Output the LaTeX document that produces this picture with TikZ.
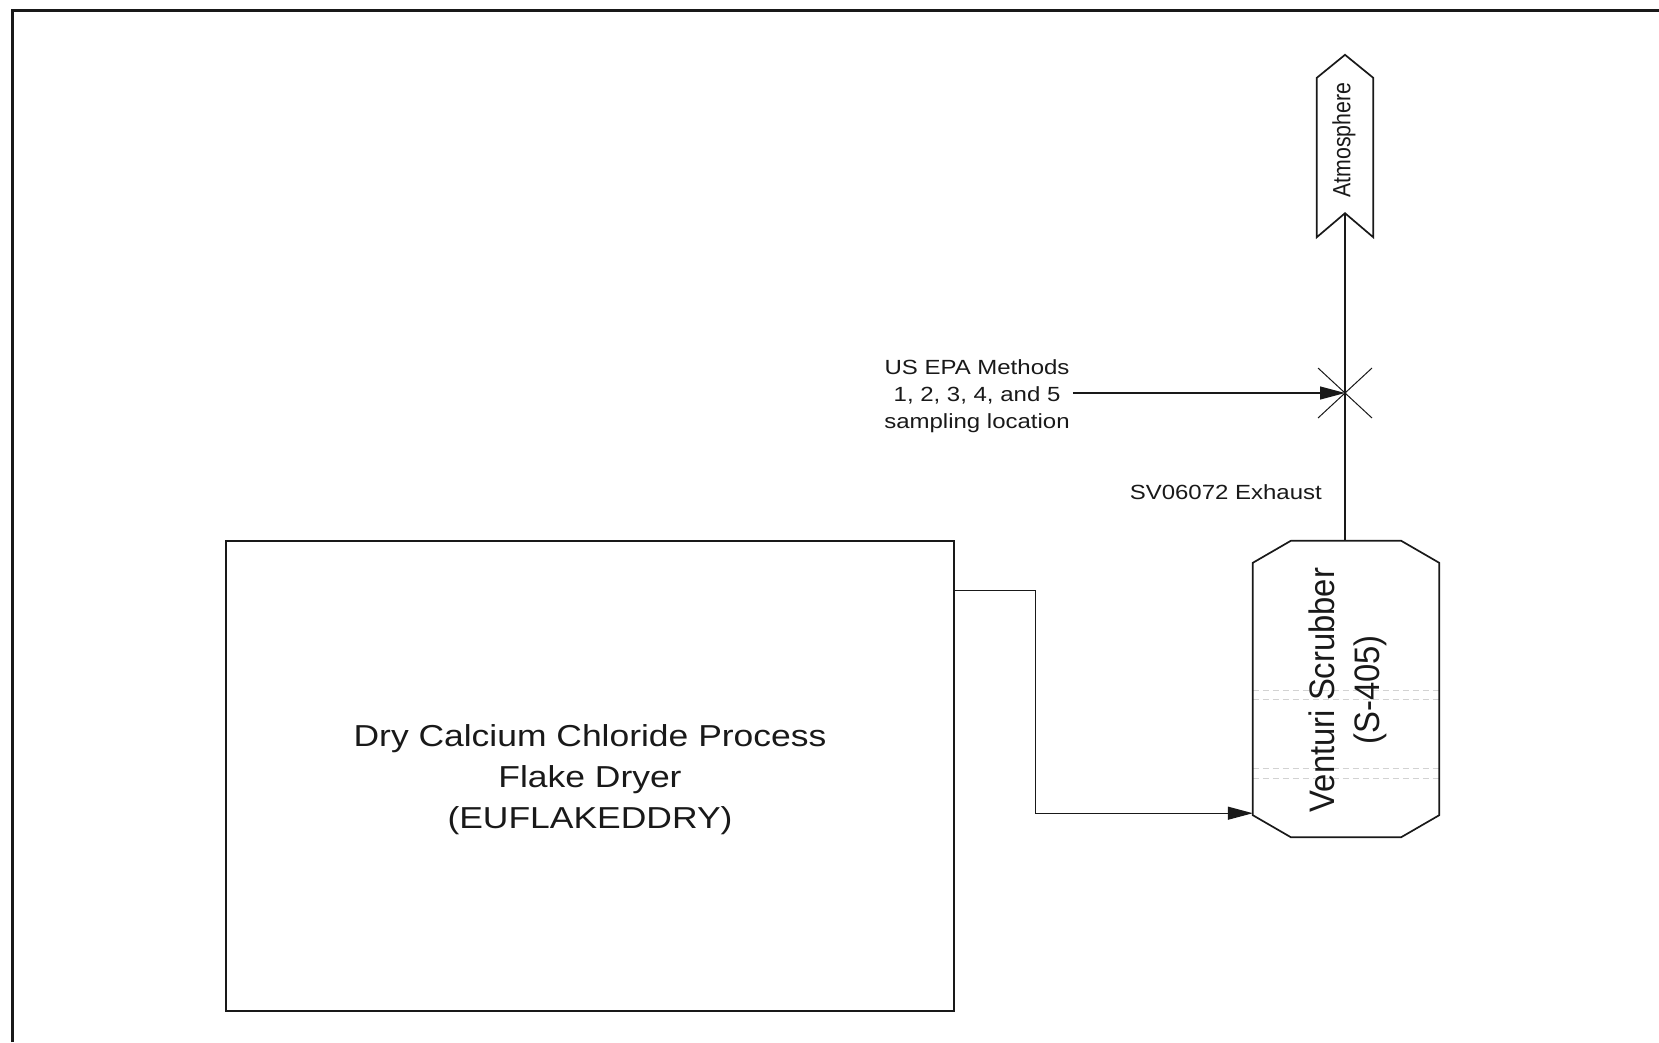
\documentclass[tikz,border=0pt]{standalone}
\usepackage{fontspec}
\setmainfont{Liberation Sans}
\newfontfamily\widefont[FakeStretch=1.17]{Liberation Sans}
\usetikzlibrary{arrows.meta}
\definecolor{ink}{RGB}{25,25,25}
\begin{document}
\begin{tikzpicture}[x=1pt,y=-1pt,
  every node/.style={text=ink},
  boxline/.style={draw=ink,line width=1.5pt},
  conn/.style={draw=ink,line width=1.2pt},
  arr/.style={conn,-{Triangle[length=25pt,width=13pt]}},
  lbl/.style={font=\widefont\fontsize{20.5}{27}\selectfont,align=center,inner sep=0pt},
  bigtxt/.style={font=\widefont\fontsize{30.3}{41}\selectfont,align=center},
  ghost/.style={draw=gray!35,line width=0.8pt,dash pattern=on 6pt off 4pt}]
\useasboundingbox (0,0) rectangle (1659,1042);
% outer frame
\draw[draw=ink,line width=3pt] (12,1042) -- (12,10) -- (1659,10);
% dryer
\node[boxline,minimum width=728pt,minimum height=470pt] (dryer) at (590,776) {};
\node[bigtxt] (dryertxt) at (590,780)
  {Dry Calcium Chloride Process\\Flake Dryer\\(EUFLAKEDDRY)};
% scrubber
\node[minimum width=186pt,minimum height=296pt,inner sep=0pt] (scrub) at (1346,689) {};
\draw[ghost] (scrub.west |- 0,690) -- (scrub.east |- 0,690);
\draw[ghost] (scrub.west |- 0,699) -- (scrub.east |- 0,699);
\draw[ghost] (scrub.west |- 0,768) -- (scrub.east |- 0,768);
\draw[ghost] (scrub.west |- 0,778) -- (scrub.east |- 0,778);
\draw[draw=ink,line width=1.7pt]
  ([xshift=38pt]scrub.north west) -- ([xshift=-38pt]scrub.north east)
  -- ([yshift=-22pt]scrub.north east) -- ([yshift=22pt]scrub.south east)
  -- ([xshift=-38pt]scrub.south east) -- ([xshift=38pt]scrub.south west)
  -- ([yshift=22pt]scrub.south west) -- ([yshift=-22pt]scrub.north west) -- cycle;
\node[rotate=90,inner sep=0pt] (scrubtxt) at (1348,690)
  {\scalebox{1}[1.08]{\fontsize{32.8}{41.5}\selectfont\begin{tabular}{@{}c@{}}Venturi Scrubber\\(S-405)\end{tabular}}};
% atmosphere
\node[minimum width=56pt,minimum height=182pt,inner sep=0pt] (atm) at (1345,146) {};
\draw[draw=ink,line width=1.7pt]
  ([yshift=-23pt]atm.north west) -- (atm.north) -- ([yshift=-23pt]atm.north east)
  -- (atm.south east) -- ([yshift=24pt]atm.south) -- (atm.south west) -- cycle;
\node[rotate=90,inner sep=0pt] (atmtxt) at (1344,140)
  {\scalebox{1}[1.17]{\fontsize{21.3}{25}\selectfont Atmosphere}};
% stack line
\coordinate (notch) at ([yshift=24pt]atm.south);
\draw[conn] (notch) -- (notch |- scrub.north);
% sampling location marker
\coordinate (samp) at (1345,393);
\draw[draw=ink,line width=1pt] ([xshift=-27pt,yshift=25pt]samp) -- ([xshift=27pt,yshift=-25pt]samp);
\draw[draw=ink,line width=1pt] ([xshift=-27pt,yshift=-25pt]samp) -- ([xshift=27pt,yshift=25pt]samp);
\node[lbl] (epa) at (977,396) {US EPA Methods\\1, 2, 3, 4, and 5\\sampling location};
\draw[arr] ([xshift=3pt]epa.east |- samp) -- (samp);
\node[lbl,anchor=east] (sv) at (1322,492) {SV06072 Exhaust};
% dryer to scrubber
\draw[arr] ([yshift=-50pt]dryer.north east) -- ++(81,0) |- ([yshift=24pt]scrub.south west);
\end{tikzpicture}
\end{document}
